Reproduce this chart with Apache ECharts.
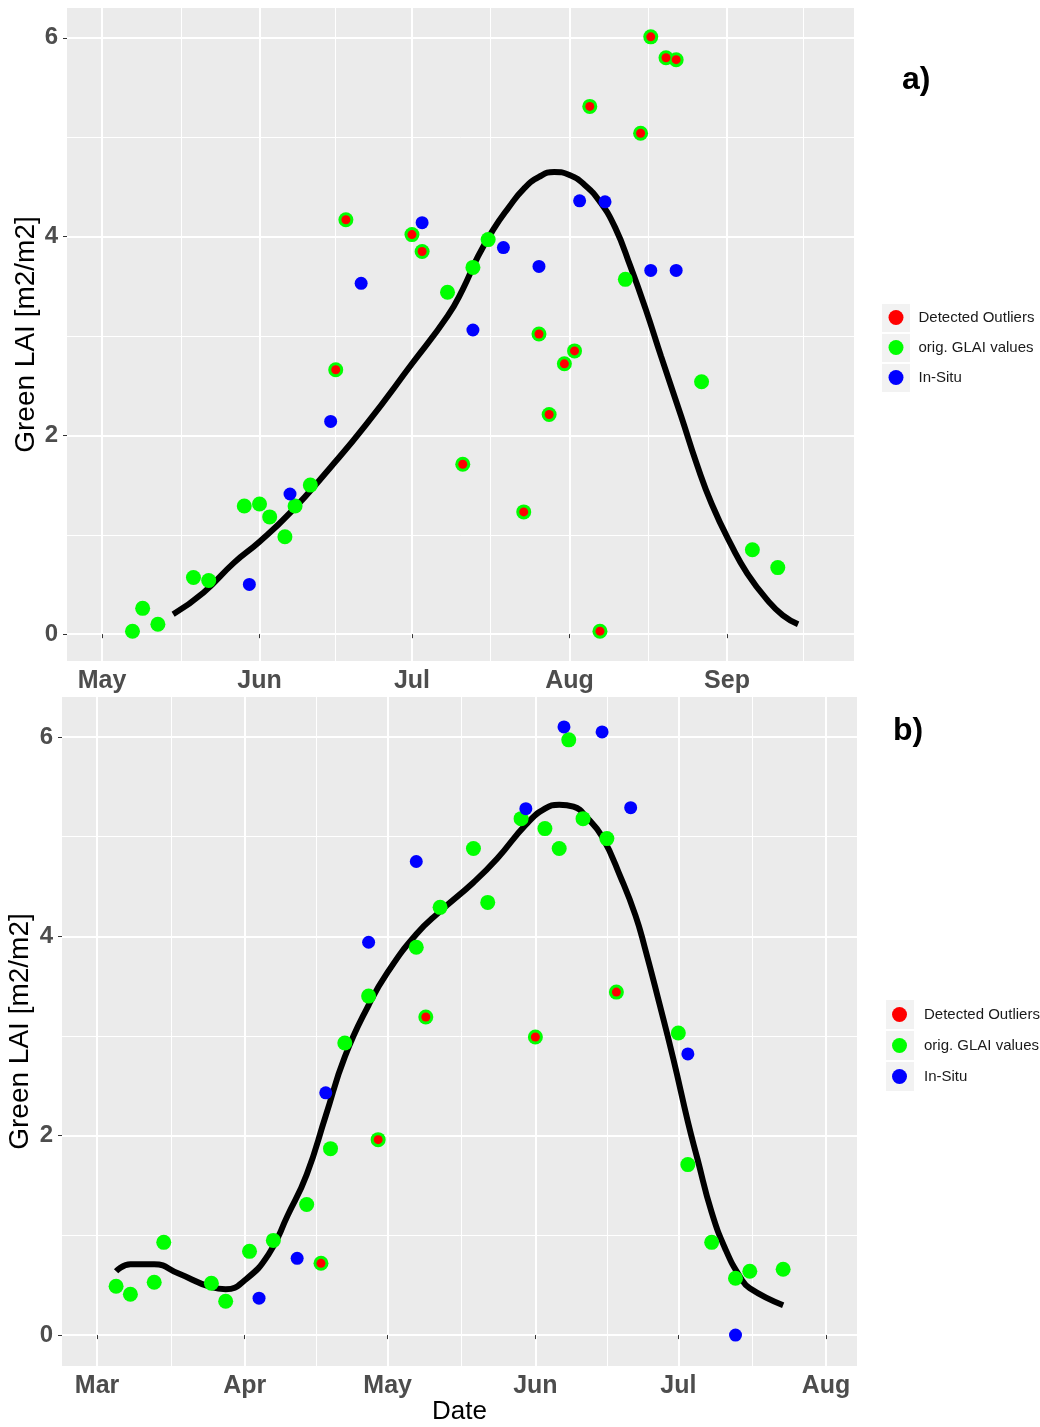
<!DOCTYPE html>
<html><head><meta charset="utf-8">
<script src="https://cdn.jsdelivr.net/npm/echarts@6/dist/echarts.min.js"></script>
<style>html,body{margin:0;padding:0;background:#fff}#c{width:1040px;height:1427px}</style>
</head><body><div id="c"></div>
<script>
// ---------- Panel a) ----------
const aGlaiDates = ['2018-05-07','2018-05-09','2018-05-12','2018-05-19','2018-05-22','2018-05-29','2018-06-01','2018-06-03','2018-06-06','2018-06-08','2018-06-11','2018-07-08','2018-07-13','2018-07-16','2018-08-12','2018-08-27','2018-09-06','2018-09-11'];
const aGlaiValues = [0.03,0.26,0.10,0.57,0.54,1.29,1.31,1.18,0.98,1.29,1.50,3.44,3.69,3.97,3.57,2.54,0.85,0.67];
const aOutDates = ['2018-06-16','2018-06-18','2018-07-01','2018-07-03','2018-07-11','2018-07-23','2018-07-26','2018-07-28','2018-07-31','2018-08-02','2018-08-05','2018-08-07','2018-08-15','2018-08-17','2018-08-20','2018-08-22'];
const aOutValues = [2.66,4.17,4.02,3.85,1.71,1.23,3.02,2.21,2.72,2.85,5.31,0.03,5.04,6.01,5.80,5.78];
const aInsituDates = ['2018-05-30','2018-06-07','2018-06-15','2018-06-21','2018-07-03','2018-07-13','2018-07-19','2018-07-26','2018-08-03','2018-08-08','2018-08-17','2018-08-22'];
const aInsituValues = [0.50,1.41,2.14,3.53,4.14,3.06,3.89,3.70,4.36,4.35,3.66,3.66];
const aFitDates = ['2018-05-15','2018-05-21','2018-05-27','2018-06-01','2018-06-07','2018-06-15','2018-06-22','2018-07-01','2018-07-08','2018-07-11','2018-07-14','2018-07-17','2018-07-20','2018-07-23','2018-07-26','2018-07-29','2018-08-01','2018-08-04','2018-08-07','2018-08-10','2018-08-13','2018-08-16','2018-08-19','2018-08-23','2018-08-26','2018-08-29','2018-09-02','2018-09-05','2018-09-09','2018-09-12','2018-09-15'];
const aFitValues = [0.20,0.42,0.72,0.93,1.22,1.68,2.11,2.72,3.20,3.47,3.80,4.07,4.29,4.48,4.60,4.65,4.62,4.52,4.35,4.09,3.70,3.27,2.80,2.19,1.72,1.31,0.88,0.61,0.34,0.19,0.10];
const aMonthTicks = ['2018-05-01','2018-06-01','2018-07-01','2018-08-01','2018-09-01'];
const aMinorTicks = ['2018-05-16 12:00','2018-06-16 00:00','2018-07-16 12:00','2018-08-16 12:00','2018-09-16 00:00'];

// ---------- Panel b) ----------
const bGlaiDates = ['2018-03-05','2018-03-08','2018-03-13','2018-03-15','2018-03-25','2018-03-28','2018-04-02','2018-04-07','2018-04-14','2018-04-19','2018-04-22','2018-04-27','2018-05-07','2018-05-12','2018-05-19','2018-05-22','2018-05-29','2018-06-03','2018-06-06','2018-06-08','2018-06-11','2018-06-16','2018-07-01','2018-07-03','2018-07-08','2018-07-13','2018-07-16','2018-07-23'];
const bGlaiValues = [0.49,0.41,0.53,0.93,0.52,0.34,0.84,0.95,1.31,1.87,2.93,3.40,3.89,4.29,4.88,4.34,5.18,5.08,4.88,5.97,5.18,4.98,3.03,1.71,0.93,0.57,0.64,0.66];
const bOutDates = ['2018-04-17','2018-04-29','2018-05-09','2018-06-01','2018-06-18'];
const bOutValues = [0.72,1.96,3.19,2.99,3.44];
const bInsituDates = ['2018-04-04','2018-04-12','2018-04-18','2018-04-27','2018-05-07','2018-05-30','2018-06-07','2018-06-15','2018-06-21','2018-07-03','2018-07-13'];
const bInsituValues = [0.37,0.77,2.43,3.94,4.75,5.28,6.10,6.05,5.29,2.82,0.00];
const bFitDates = ['2018-03-05','2018-03-08','2018-03-13','2018-03-18','2018-03-25','2018-03-28','2018-04-01','2018-04-06','2018-04-10','2018-04-14','2018-04-18','2018-04-22','2018-04-27','2018-05-01','2018-05-07','2018-05-12','2018-05-19','2018-05-24','2018-05-30','2018-06-03','2018-06-06','2018-06-09','2018-06-12','2018-06-15','2018-06-19','2018-06-22','2018-06-24','2018-06-27','2018-06-30','2018-07-03','2018-07-05','2018-07-08','2018-07-11','2018-07-14','2018-07-16','2018-07-23'];
const bFitValues = [0.64,0.71,0.71,0.62,0.48,0.46,0.55,0.81,1.20,1.61,2.20,2.79,3.31,3.64,4.02,4.25,4.54,4.78,5.12,5.28,5.32,5.30,5.18,5.00,4.58,4.21,3.88,3.33,2.76,2.14,1.77,1.23,0.85,0.58,0.47,0.30];
const bMonthTicks = ['2018-03-01','2018-04-01','2018-05-01','2018-06-01','2018-07-01','2018-08-01'];
const bMinorTicks = ['2018-03-16 12:00','2018-04-16 00:00','2018-05-16 12:00','2018-06-16 00:00','2018-07-16 12:00'];

// ---------- shared ----------
const yMajorTicks = [0, 2, 4, 6];
const yMinorTicks = [1, 3, 5];
const monthNames = ['Jan','Feb','Mar','Apr','May','Jun','Jul','Aug','Sep','Oct','Nov','Dec'];
const legendNames = ['Detected Outliers', 'orig. GLAI values', 'In-Situ'];
const yTitle = 'Green LAI [m2/m2]';
const xTitle = 'Date';
const panelLabels = ['a)', 'b)'];

const FONT = '"Liberation Sans", Arial, sans-serif';
const t = s => echarts.time.parse(s).getTime();
const ts = arr => arr.map(t);
const pairs = (d, v) => d.map((x, i) => [t(x), v[i]]);

function xAxes(grid, min, max, major, minor, name) {
  return [{
    gridIndex: grid, type: 'value', min: t(min), max: t(max), position: 'bottom',
    name: name || '', nameLocation: 'middle', nameGap: 33, nameMoveOverlap: false,
    nameTextStyle: {fontSize: 26, color: '#000', fontFamily: FONT},
    axisLine: {show: false},
    axisTick: {show: true, length: 4, customValues: ts(major), lineStyle: {color: '#333', width: 1}},
    axisLabel: {customValues: ts(major), margin: 8, fontSize: 25, fontWeight: 'bold', color: '#4D4D4D', fontFamily: FONT,
      showMinLabel: true, showMaxLabel: true,
      formatter: v => monthNames[new Date(v).getMonth()]},
    splitLine: {show: true, lineStyle: {color: '#FFFFFF', width: 2}}
  }, {
    gridIndex: grid, type: 'value', min: t(min), max: t(max), position: 'top',
    axisLine: {show: false}, axisLabel: {show: false},
    axisTick: {show: false, customValues: ts(minor)},
    splitLine: {show: true, lineStyle: {color: '#FFFFFF', width: 1}}
  }];
}
function yAxes(grid, min, max, gap) {
  return [{
    gridIndex: grid, type: 'value', min: min, max: max, position: 'left',
    name: yTitle, nameLocation: 'middle', nameGap: gap, nameRotate: 90, nameMoveOverlap: false,
    nameTextStyle: {fontSize: 28, color: '#000', fontFamily: FONT},
    axisLine: {show: false},
    axisTick: {show: true, length: 4, customValues: yMajorTicks, lineStyle: {color: '#333', width: 1}},
    axisLabel: {customValues: yMajorTicks, margin: 9, fontSize: 24, fontWeight: 'bold', color: '#4D4D4D', fontFamily: FONT},
    splitLine: {show: true, lineStyle: {color: '#FFFFFF', width: 2}}
  }, {
    gridIndex: grid, type: 'value', min: min, max: max, position: 'right',
    axisLine: {show: false}, axisLabel: {show: false},
    axisTick: {show: false, customValues: yMinorTicks},
    splitLine: {show: true, lineStyle: {color: '#FFFFFF', width: 1}}
  }];
}
function panelSeries(xi, yi, fitD, fitV, glD, glV, outD, outV, inD, inV) {
  return [
    {type: 'line', name: 'fit', xAxisIndex: xi, yAxisIndex: yi, data: pairs(fitD, fitV),
     smooth: 0.5, symbol: 'none', lineStyle: {color: '#000', width: 6}, z: 2, silent: true},
    {type: 'scatter', name: legendNames[1], xAxisIndex: xi, yAxisIndex: yi,
     data: pairs(glD, glV).concat(pairs(outD, outV)),
     symbolSize: 15, itemStyle: {color: '#00FF00', opacity: 1}, z: 3},
    {type: 'scatter', name: legendNames[2], xAxisIndex: xi, yAxisIndex: yi, data: pairs(inD, inV),
     symbolSize: 13, itemStyle: {color: '#0000FF', opacity: 1}, z: 3},
    {type: 'scatter', name: legendNames[0], xAxisIndex: xi, yAxisIndex: yi, data: pairs(outD, outV),
     symbolSize: 9, itemStyle: {color: '#FF0000', opacity: 1}, z: 4}
  ];
}

const option = {
  animation: false,
  backgroundColor: '#FFFFFF',
  textStyle: {fontFamily: FONT},
  title: [
    {text: panelLabels[0], left: 902, top: 64, padding: 0, textStyle: {fontSize: 32, fontWeight: 'bold', color: '#000', fontFamily: FONT}},
    {text: panelLabels[1], left: 893, top: 715, padding: 0, textStyle: {fontSize: 32, fontWeight: 'bold', color: '#000', fontFamily: FONT}}
  ],
  grid: [
    {left: 67, top: 8, width: 787, height: 653, show: true, backgroundColor: '#EBEBEB', borderWidth: 0, containLabel: false, outerBoundsMode: 'none'},
    {left: 62, top: 697, width: 795, height: 669, show: true, backgroundColor: '#EBEBEB', borderWidth: 0, containLabel: false, outerBoundsMode: 'none'}
  ],
  xAxis: xAxes(0, '2018-04-24 02:40', '2018-09-26 00:00', aMonthTicks, aMinorTicks, '')
    .concat(xAxes(1, '2018-02-21 15:30', '2018-08-07 12:00', bMonthTicks, bMinorTicks, xTitle)),
  yAxis: yAxes(0, -0.27, 6.30, 27).concat(yAxes(1, -0.31, 6.40, 28)),
  legend: [
    {data: legendNames, orient: 'vertical', left: 888.5, top: 310, itemWidth: 15, itemHeight: 15, itemGap: 15,
     icon: 'circle', selectedMode: false, padding: 0,
     textStyle: {fontSize: 15, color: '#1A1A1A', fontFamily: FONT, padding: [0, 0, 0, 10]}},
    {data: legendNames, orient: 'vertical', left: 892, top: 1007, itemWidth: 15, itemHeight: 15, itemGap: 16,
     icon: 'circle', selectedMode: false, padding: 0,
     textStyle: {fontSize: 15, color: '#1A1A1A', fontFamily: FONT, padding: [0, 0, 0, 12]}}
  ],
  graphic: [
    {type: 'rect', left: 882, top: 304, shape: {width: 28, height: 28}, style: {fill: '#F2F2F2'}, z: -1, silent: true},
    {type: 'rect', left: 882, top: 334, shape: {width: 28, height: 28}, style: {fill: '#F2F2F2'}, z: -1, silent: true},
    {type: 'rect', left: 882, top: 364, shape: {width: 28, height: 28}, style: {fill: '#F2F2F2'}, z: -1, silent: true},
    {type: 'rect', left: 886, top: 1000, shape: {width: 28, height: 29}, style: {fill: '#F2F2F2'}, z: -1, silent: true},
    {type: 'rect', left: 886, top: 1031, shape: {width: 28, height: 29}, style: {fill: '#F2F2F2'}, z: -1, silent: true},
    {type: 'rect', left: 886, top: 1062, shape: {width: 28, height: 29}, style: {fill: '#F2F2F2'}, z: -1, silent: true}
  ],
  series: panelSeries(0, 0, aFitDates, aFitValues, aGlaiDates, aGlaiValues, aOutDates, aOutValues, aInsituDates, aInsituValues)
    .concat(panelSeries(2, 2, bFitDates, bFitValues, bGlaiDates, bGlaiValues, bOutDates, bOutValues, bInsituDates, bInsituValues))
};

const chart = echarts.init(document.getElementById('c'), null, {renderer: 'canvas'});
chart.setOption(option);
</script></body></html>
